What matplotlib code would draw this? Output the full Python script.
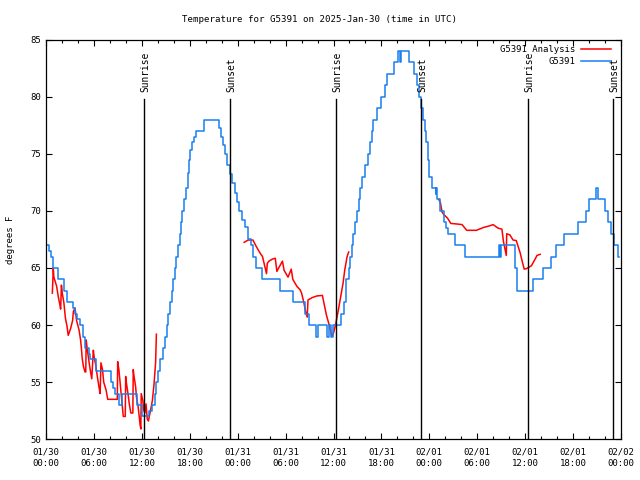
import numpy as np
import matplotlib
matplotlib.use('Agg')
import matplotlib.pyplot as plt

# hours since 2025-01-30 00:00 UTC
obs_h = [0.0, 0.35, 0.6, 0.9, 1.5, 2.2, 2.55, 3.4, 3.6, 3.9, 4.2, 4.6, 4.9, 5.3, 5.5, 6.2,
         8.1, 8.4, 8.6, 9.1, 9.45, 11.4, 12.0, 12.9, 13.2, 13.6, 13.8, 14.0, 14.3, 14.6,
         14.85, 15.1, 15.3, 15.5, 15.7, 15.9, 16.1, 16.3, 16.5, 16.7, 16.85, 17.05, 17.25,
         17.45, 17.7, 17.9, 18.05, 18.25, 18.5, 18.8, 19.75, 21.7, 21.95, 22.2, 22.45, 22.6,
         23.05, 23.3, 23.6, 23.9, 24.2, 24.5, 24.9, 25.3, 25.6, 25.9, 26.3, 27.0, 29.3,
         30.9, 32.4, 32.9, 33.8, 34.1, 35.2, 35.4, 35.7, 35.9, 36.9, 37.3, 37.5, 37.6,
         37.9, 38.1, 38.3, 38.4, 38.7, 38.95, 39.15, 39.35, 39.6, 39.9, 40.3, 40.6, 40.8,
         41.0, 41.4, 42.0, 42.4, 42.7, 43.6, 44.1, 44.3, 44.5, 45.5, 46.1, 46.4, 46.7,
         47.0, 47.25, 47.4, 47.6, 47.8, 48.0, 48.3, 48.8, 48.9, 49.0, 49.4, 49.8, 50.1,
         50.4, 51.2, 52.5, 56.7, 56.85, 57.0, 58.8, 59.0, 61.0, 62.3, 63.2, 63.9, 64.9,
         66.6, 67.6, 68.0, 68.85, 69.1, 70.0, 70.4, 70.8, 71.1, 71.6, 71.8]
obs_t = [67.0, 66.5, 66.0, 65.0, 64.0, 63.0, 62.0, 61.5, 61.0, 60.5, 60.0, 59.0, 58.0, 57.5, 57.0, 56.0,
         55.0, 54.5, 54.0, 53.0, 54.0, 53.0, 52.0, 52.5, 53.0, 54.0, 55.0, 56.0, 57.0, 58.0,
         59.0, 60.0, 61.0, 62.0, 63.0, 64.0, 65.0, 66.0, 67.0, 68.0, 69.0, 70.0, 71.0,
         72.0, 73.3, 74.5, 75.3, 76.0, 76.5, 77.0, 78.0, 77.3, 76.5, 75.8, 75.0, 74.0,
         73.2, 72.4, 71.6, 70.8, 70.0, 69.2, 68.6, 67.5, 67.0, 66.0, 65.0, 64.0, 63.0,
         62.0, 61.0, 60.0, 59.0, 60.0, 59.0, 60.0, 59.0, 60.0, 61.0, 62.0, 63.0, 64.0,
         65.0, 66.0, 67.0, 68.0, 69.0, 70.0, 71.0, 72.0, 73.0, 74.0, 75.0, 76.0, 77.0,
         78.0, 79.0, 80.0, 81.0, 82.0, 83.0, 84.0, 83.0, 84.0, 83.0, 82.0, 81.0, 80.0,
         79.0, 78.0, 77.0, 76.0, 74.5, 73.0, 72.0, 71.5, 72.0, 71.0, 70.0, 69.0, 68.5,
         68.0, 67.0, 66.0, 67.0, 66.0, 67.0, 65.0, 63.0, 64.0, 65.0, 66.0, 67.0, 68.0,
         69.0, 70.0, 71.0, 72.0, 71.0, 70.0, 69.0, 68.0, 67.0, 66.0, 66.0]

ana1_h = [0.76, 0.88, 0.95, 1.3, 1.5, 1.7, 1.8, 1.9, 2.0, 2.2, 2.4, 2.6, 2.75, 3.05, 3.3, 3.4,
          3.6, 3.8, 4.1, 4.3, 4.4, 4.5, 4.65, 4.85, 4.95, 5.0, 5.15, 5.35, 5.5, 5.7, 5.9, 6.0,
          6.2, 6.4, 6.6, 6.75, 6.85, 7.05, 7.2, 7.5, 7.7, 8.9, 8.95, 9.1, 9.3, 9.5, 9.65, 9.9,
          9.95, 10.05, 10.3, 10.4, 10.6, 10.85, 10.9, 11.0, 11.2, 11.3, 11.5, 11.65, 11.75,
          11.85, 11.9, 12.1, 12.2, 12.35, 12.5, 12.65, 12.8, 13.0, 13.3, 13.5, 13.7, 13.8]
ana1_t = [62.8, 65.0, 64.2, 63.4, 62.5, 61.8, 61.4, 63.5, 62.8, 62.0, 60.6, 59.9, 59.1, 59.7, 60.4, 61.2,
          61.5, 60.4, 59.6, 58.7, 58.0, 57.1, 56.4, 55.9, 55.9, 58.7, 57.8, 56.8, 56.1, 55.3, 57.8, 57.2,
          56.5, 55.5, 54.6, 54.0, 56.7, 56.1, 55.0, 54.3, 53.5, 53.5, 56.8, 56.1, 54.6, 53.1, 52.0, 52.0,
          55.5, 54.9, 53.7, 53.1, 52.3, 52.3, 56.1, 55.5, 54.6, 53.7, 52.9, 52.0, 51.3,
          50.9, 54.0, 53.4, 52.6, 52.3, 53.1, 51.8, 51.6, 52.3, 53.4, 54.8, 56.7, 59.2]

ana2_h = [24.8, 25.3, 25.9, 26.3, 26.8, 27.1, 27.4, 27.6, 27.7, 27.9, 28.4, 28.7, 28.9, 29.2,
          29.6, 29.8, 30.3, 30.7, 30.9, 31.4, 31.8, 32.0, 32.3, 32.5, 32.7, 32.8, 33.3, 33.9,
          34.6, 34.9, 35.1, 35.5, 35.8, 36.0, 36.3, 36.6, 36.9, 37.2, 37.4, 37.7, 37.9]
ana2_t = [67.25, 67.45, 67.45, 66.9, 66.3, 66.0, 65.1, 64.5, 65.4, 65.6, 65.8, 65.85, 64.7, 65.1,
          65.6, 64.8, 64.2, 64.9, 64.0, 63.4, 63.1, 62.8, 61.9, 61.2, 60.7, 62.2, 62.4, 62.55,
          62.6, 61.6, 60.9, 59.9, 59.0, 59.3, 60.2, 61.3, 62.5, 63.7, 64.8, 66.0, 66.4]

ana3_h = [49.2, 49.4, 49.6, 49.8, 50.3, 50.7, 51.5, 52.1, 52.7, 53.9, 54.8, 55.6, 56.0, 56.6,
          57.1, 57.3, 57.5, 57.65, 57.7, 58.1, 58.5, 58.9, 59.4, 59.6, 59.9, 60.2, 60.8, 61.2,
          61.5, 61.9]
ana3_t = [71.0, 70.7, 69.9, 69.7, 69.35, 68.9, 68.85, 68.8, 68.3, 68.3, 68.55, 68.7, 68.8, 68.5,
          68.4, 67.3, 66.6, 66.1, 68.0, 67.9, 67.45, 67.4, 66.3, 65.7, 64.9, 64.95, 65.2, 65.7,
          66.1, 66.2]

sunrise_h = [12.28, 36.34, 60.40]
sunset_h = [23.06, 46.99, 71.05]

xtick_h = list(range(0, 73, 6))
xtick_labels = ['01/30\n00:00', '01/30\n06:00', '01/30\n12:00', '01/30\n18:00',
                '01/31\n00:00', '01/31\n06:00', '01/31\n12:00', '01/31\n18:00',
                '02/01\n00:00', '02/01\n06:00', '02/01\n12:00', '02/01\n18:00',
                '02/02\n00:00']
ytick_vals = [50, 55, 60, 65, 70, 75, 80, 85]

plt.rcParams['font.family'] = ['DejaVu Sans Mono']
fs = 6.5

fig = plt.figure(figsize=(6.4, 4.8), dpi=100)
ax = fig.add_axes([0.0723, 0.0848, 0.8977, 0.8327])

# analysis: segments separated by gaps
ana_h = ana1_h + [np.nan] + ana2_h + [np.nan] + ana3_h
ana_t = ana1_t + [np.nan] + ana2_t + [np.nan] + ana3_t
ax.plot(ana_h, ana_t, color='#ff0000', lw=1.1, label='G5391 Analysis')
ax.plot(obs_h, obs_t, color='#1a80f0', lw=1.1, drawstyle='steps-post', label='G5391')

for h in sunrise_h:
    ax.plot([h, h], [50, 79.8], color='black', lw=1)
    ax.text(h + 0.15, 80.45, 'Sunrise', rotation=90, ha='center', va='bottom', fontsize=6.9)
for h in sunset_h:
    ax.plot([h, h], [50, 79.8], color='black', lw=1)
    ax.text(h + 0.15, 80.45, 'Sunset', rotation=90, ha='center', va='bottom', fontsize=6.9)

ax.set_xlim(0, 72)
ax.set_ylim(50, 85)
ax.set_xticks(xtick_h)
ax.set_xticklabels(xtick_labels, fontsize=fs)
ax.set_xticks(np.arange(0, 73, 2), minor=True)
ax.set_yticks(ytick_vals)
ax.set_yticklabels([str(v) for v in ytick_vals], fontsize=fs)
ax.tick_params(which='both', direction='in', top=True, right=True, width=0.8)
ax.tick_params(which='major', length=4.5)
ax.tick_params(which='minor', length=2.5)
ax.tick_params(axis='x', which='major', pad=6)
ax.tick_params(axis='y', which='major', pad=4)
for lab in ax.get_xticklabels():
    lab.set_linespacing(1.35)
for s in ax.spines.values():
    s.set_linewidth(0.9)

ax.set_ylabel('degrees F', fontsize=fs)
ax.yaxis.set_label_coords(-0.054, 0.5)
fig.text(0.5, 1 - 19 / 480, 'Temperature for G5391 on 2025-Jan-30 (time in UTC)',
         fontsize=6.6, ha='center', va='center')

leg = ax.legend(loc='upper right', bbox_to_anchor=(0.993, 1.0), frameon=False,
                markerfirst=False, fontsize=fs, handlelength=3.4, handletextpad=0.6,
                labelspacing=0.35, borderaxespad=0.2)
for t in leg.get_texts():
    t.set_ha('right')

fig.savefig('out.png', dpi=100)
